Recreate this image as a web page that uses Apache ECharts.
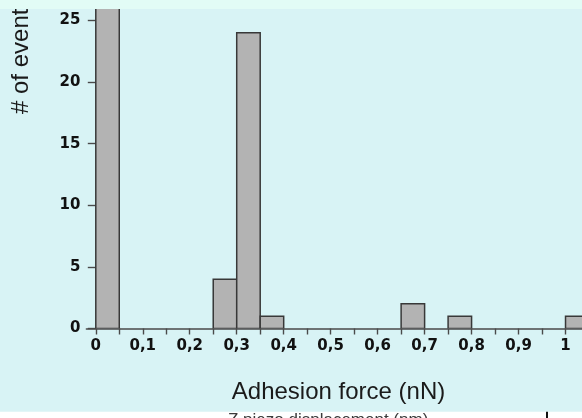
<!DOCTYPE html>
<html>
<head>
<meta charset="utf-8">
<title>Adhesion force histogram</title>
<script src="https://cdn.jsdelivr.net/npm/echarts@6/dist/echarts.min.js"></script>
<style>
  html, body { margin: 0; padding: 0; background: #d8f3f5; }
  #chart { width: 582px; height: 418px; }
</style>
</head>
<body>
<div id="chart"></div>
<script>
// Histogram bins (nN) and event counts
const binStart = [0.00, 0.25, 0.30, 0.35, 0.65, 0.75, 1.00];
const binEnd   = [0.05, 0.30, 0.35, 0.40, 0.70, 0.80, 1.05];
const counts   = [27, 4, 24, 1, 2, 1, 1];

// Axis ticks and labels
const xTickValues  = [0, 0.05, 0.1, 0.15, 0.2, 0.25, 0.3, 0.35, 0.4, 0.45, 0.5,
                      0.55, 0.6, 0.65, 0.7, 0.75, 0.8, 0.85, 0.9, 0.95, 1, 1.05];
const xLabelValues = [0, 0.1, 0.2, 0.3, 0.4, 0.5, 0.6, 0.7, 0.8, 0.9, 1];
const yTickValues  = [0, 5, 10, 15, 20, 25];

const xTitle = 'Adhesion force (nN)';
const yTitle = '# of events';
const footText = 'Z piezo displacement (nm)';

const bins = binStart.map((s, i) => [s, binEnd[i], counts[i]]);

const chart = echarts.init(document.getElementById('chart'), null, { renderer: 'canvas' });

const tickFont = { color: '#111', fontSize: 15, fontWeight: 'bold', fontFamily: '"DejaVu Sans", sans-serif' };

chart.setOption({
  backgroundColor: '#d8f3f5',
  animation: false,
  grid: { left: 86.4, top: 0, width: 526.1, bottom: 89.5, outerBoundsMode: 'none', containLabel: false },
  xAxis: {
    type: 'value',
    min: -0.02,
    max: 1.1,
    splitLine: { show: false },
    axisLine: { show: true, onZero: false, lineStyle: { color: '#4a4a4a', width: 1.6 } },
    axisTick: { show: true, length: 6, customValues: xTickValues, lineStyle: { color: '#4a4a4a', width: 1.4 } },
    axisLabel: {
      ...tickFont,
      margin: 10,
      customValues: xLabelValues,
      formatter: v => String(Math.round(v * 10) / 10).replace('.', ',')
    }
  },
  yAxis: {
    type: 'value',
    min: 0,
    max: 26.66,
    splitLine: { show: false },
    axisLine: { show: false, onZero: true },
    axisTick: { show: true, length: 8, customValues: yTickValues, lineStyle: { color: '#4a4a4a', width: 1.4 } },
    axisLabel: { ...tickFont, margin: 6, customValues: yTickValues }
  },
  series: [{
    type: 'custom',
    clip: true,
    data: bins,
    encode: { x: [0, 1], y: 2 },
    renderItem: function (params, api) {
      const p0 = api.coord([api.value(0), 0]);
      const p1 = api.coord([api.value(1), api.value(2)]);
      return {
        type: 'rect',
        shape: { x: p0[0], y: p1[1], width: p1[0] - p0[0], height: p0[1] - p1[1] },
        style: { fill: '#b3b3b3', stroke: '#383838', lineWidth: 1.5 }
      };
    }
  }],
  graphic: [
    {
      type: 'text', x: 338.5, y: 392, z: 50,
      style: { text: xTitle, fill: '#1a1a1a', font: '24px "Liberation Sans", Arial, sans-serif',
               textAlign: 'center', textVerticalAlign: 'middle' }
    },
    {
      type: 'text', x: 21, y: 114, rotation: Math.PI / 2, z: 50,
      style: { text: yTitle, fill: '#1a1a1a', font: '24px "Liberation Sans", Arial, sans-serif',
               textAlign: 'left', textVerticalAlign: 'middle' }
    },
    {
      type: 'rect', z: 100,
      shape: { x: 0, y: 0, width: 582, height: 9 },
      style: { fill: '#e2fcf6' }
    },
    {
      type: 'rect', z: 100,
      shape: { x: 0, y: 411.7, width: 582, height: 7 },
      style: { fill: '#ffffff' }
    },
    {
      type: 'text', x: 228, y: 412, z: 101,
      style: { text: footText, fill: '#3a3a3a', font: '17px "Liberation Sans", Arial, sans-serif',
               textAlign: 'left', textVerticalAlign: 'top' }
    },
    {
      type: 'rect', z: 101,
      shape: { x: 546, y: 411.7, width: 2, height: 7 },
      style: { fill: '#111111' }
    }
  ]
});
</script>
</body>
</html>
